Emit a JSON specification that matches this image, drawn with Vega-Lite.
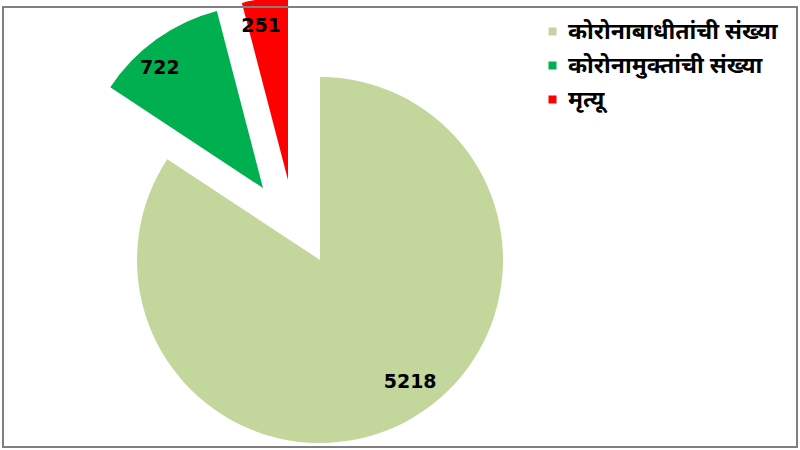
{
  "$schema": "https://vega.github.io/schema/vega-lite/v6.json",
  "width": 800,
  "height": 450,
  "autosize": {"type": "fit", "contains": "padding"},
  "padding": 2,
  "background": "white",
  "config": {"view": {"stroke": null}},
  "data": {"values": [
    {"category": "कोरोनाबाधीतांची संख्या", "value": 5218, "order": 1},
    {"category": "कोरोनामुक्तांची संख्या", "value": 722, "order": 2},
    {"category": "मृत्यू", "value": 251, "order": 3}
  ]},
  "transform": [
    {"stack": "value", "groupby": [], "sort": [{"field": "order", "order": "ascending"}], "as": ["t0", "t1"]}
  ],
  "layer": [
    {
      "encoding": {
        "theta": {"field": "t0", "type": "quantitative", "scale": {"domain": [0, 6191]}},
        "theta2": {"field": "t1"},
        "color": {
          "field": "category", "type": "nominal",
          "scale": {"domain": ["कोरोनाबाधीतांची संख्या", "कोरोनामुक्तांची संख्या", "मृत्यू"], "range": ["#c3d69b", "#00b050", "#ff0000"]},
          "legend": {
            "title": null, "orient": "none", "legendX": 538, "legendY": 13,
            "symbolType": "square", "symbolSize": 64, "symbolStrokeWidth": 0,
            "labelFont": "Noto Sans", "labelFontSize": 23, "labelFontWeight": "bold", "labelColor": "#000000",
            "labelLimit": 300, "rowPadding": 10, "labelOffset": 4
          }
        }
      },
      "layer": [
        {"transform": [{"filter": "datum.order == 1"}], "mark": {"type": "arc", "radius": 183, "xOffset": -80, "yOffset": 33}},
        {"transform": [{"filter": "datum.order == 2"}], "mark": {"type": "arc", "radius": 183, "xOffset": -137, "yOffset": -39}},
        {"transform": [{"filter": "datum.order == 3"}], "mark": {"type": "arc", "radius": 183, "xOffset": -112, "yOffset": -47}}
      ]
    },
    {
      "transform": [
        {"fold": ["t0", "t1"], "as": ["edge", "tv"]},
        {"aggregate": [{"op": "mean", "field": "tv", "as": "tmid"}], "groupby": ["category", "value", "order"]}
      ],
      "encoding": {
        "theta": {"field": "tmid", "type": "quantitative", "stack": null, "scale": {"domain": [0, 6191]}},
        "text": {"field": "value"}
      },
      "layer": [
        {"transform": [{"filter": "datum.order == 1"}], "mark": {"type": "text", "radius": 148, "xOffset": -60, "yOffset": 25, "font": "DejaVu Sans", "fontSize": 19, "fontWeight": "bold", "color": "#000000"}},
        {"transform": [{"filter": "datum.order == 2"}], "mark": {"type": "text", "radius": 148, "xOffset": -154, "yOffset": -39, "font": "DejaVu Sans", "fontSize": 19, "fontWeight": "bold", "color": "#000000"}},
        {"transform": [{"filter": "datum.order == 3"}], "mark": {"type": "text", "radius": 148, "xOffset": -120, "yOffset": -54, "font": "DejaVu Sans", "fontSize": 19, "fontWeight": "bold", "color": "#000000"}}
      ]
    },
    {"transform": [{"filter": "datum.order == 1"}], "mark": {"type": "rect", "fill": null, "stroke": "#7f7f7f", "strokeWidth": 2}, "encoding": {}}
  ]
}
